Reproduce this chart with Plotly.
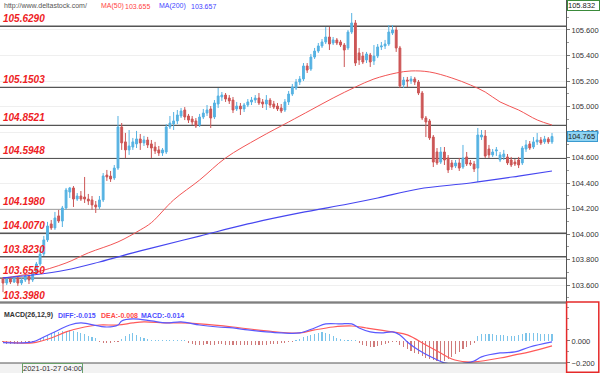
import plotly.graph_objects as go

# ---------------- data ----------------
OPEN = [103.649,103.617,103.649,103.625,103.656,103.617,103.641,103.672,103.641,103.703,
        103.766,103.845,103.955,104.080,104.049,104.143,104.103,104.205,104.330,104.362,
        104.275,104.299,104.291,104.275,104.268,104.229,104.213,104.268,104.463,104.455,
        104.440,104.518,104.840,104.723,104.660,104.683,104.707,104.746,104.715,104.738,
        104.707,104.683,104.660,104.636,104.644,104.840,104.863,104.887,104.926,104.973,
        104.926,104.902,104.887,104.855,104.918,104.949,104.981,104.918,105.020,105.075,
        105.090,105.067,105.051,104.981,105.004,104.981,105.012,105.036,105.051,105.067,
        105.036,105.020,105.051,105.020,105.004,104.989,104.973,105.036,105.098,105.145,
        105.192,105.216,105.318,105.294,105.388,105.435,105.475,105.506,105.545,105.498,
        105.522,105.506,105.482,105.459,105.584,105.655,105.420,105.396,105.365,105.404,
        105.357,105.396,105.467,105.475,105.490,105.576,105.600,105.459,105.169,105.208,
        105.200,105.216,105.192,105.106,104.910,104.887,104.761,104.644,104.565,104.644,
        104.597,104.558,104.534,104.558,104.526,104.605,104.558,104.550,104.518,104.761,
        104.769,104.667,104.621,104.652,104.581,104.605,104.605,104.581,104.565,104.581,
        104.558,104.667,104.707,104.683,104.723,104.738,104.723,104.746,104.723]
HIGH = [103.664,103.664,103.664,103.672,103.664,103.656,103.688,103.680,103.719,103.782,
        103.876,103.986,104.096,104.111,104.174,104.190,104.221,104.362,104.370,104.377,
        104.322,104.338,104.448,104.315,104.299,104.260,104.299,104.479,104.503,104.495,
        104.542,104.926,104.871,104.793,104.816,104.754,104.809,104.785,104.770,104.762,
        104.738,104.723,104.691,104.675,104.863,104.926,104.957,104.973,104.989,104.996,
        104.942,104.926,104.910,104.942,104.981,105.012,105.004,105.051,105.145,105.114,
        105.106,105.090,105.075,105.036,105.028,105.028,105.059,105.075,105.090,105.106,
        105.059,105.090,105.067,105.044,105.028,105.020,105.059,105.122,105.177,105.216,
        105.239,105.341,105.341,105.412,105.459,105.498,105.529,105.623,105.623,105.545,
        105.537,105.522,105.498,105.600,105.733,105.678,105.459,105.428,105.428,105.420,
        105.482,105.490,105.506,105.522,105.639,105.639,105.623,105.475,105.232,105.232,
        105.239,105.232,105.208,105.122,104.926,104.902,104.777,104.675,104.683,104.683,
        104.620,104.581,104.581,104.597,104.699,104.644,104.581,104.573,104.832,104.816,
        104.816,104.699,104.667,104.683,104.644,104.660,104.628,104.605,104.589,104.605,
        104.691,104.738,104.730,104.761,104.793,104.761,104.770,104.761,104.793]
LOW = [103.546,103.601,103.609,103.617,103.594,103.601,103.625,103.609,103.625,103.688,
       103.751,103.829,103.939,104.033,104.033,104.088,104.056,104.190,104.283,104.213,
       104.260,104.260,104.244,104.229,104.190,104.166,104.197,104.252,104.417,104.409,
       104.424,104.503,104.660,104.597,104.621,104.660,104.675,104.660,104.691,104.675,
       104.597,104.628,104.613,104.613,104.628,104.824,104.816,104.863,104.910,104.894,
       104.871,104.855,104.832,104.840,104.902,104.926,104.832,104.902,104.989,105.044,
       105.036,105.020,104.949,104.965,104.934,104.957,104.996,105.012,105.028,105.012,
       104.989,104.973,104.989,104.981,104.965,104.949,104.957,105.012,105.083,105.130,
       105.169,105.200,105.263,105.279,105.373,105.420,105.459,105.490,105.443,105.482,
       105.482,105.467,105.310,105.443,105.569,105.318,105.326,105.333,105.341,105.310,
       105.326,105.380,105.443,105.451,105.475,105.561,105.428,105.145,105.145,105.153,
       105.177,105.169,105.090,104.894,104.761,104.738,104.526,104.542,104.550,104.542,
       104.479,104.503,104.518,104.495,104.511,104.534,104.534,104.487,104.409,104.738,
       104.597,104.597,104.605,104.613,104.565,104.581,104.542,104.526,104.534,104.518,
       104.542,104.644,104.660,104.667,104.699,104.699,104.707,104.707,104.707]
CLOSE = [103.617,103.649,103.625,103.656,103.617,103.641,103.672,103.641,103.703,103.766,
         103.844,103.955,104.064,104.049,104.127,104.103,104.205,104.346,104.362,104.275,
         104.299,104.275,104.275,104.260,104.229,104.213,104.268,104.456,104.448,104.432,
         104.518,104.840,104.715,104.660,104.691,104.723,104.746,104.715,104.738,104.699,
         104.675,104.652,104.636,104.660,104.840,104.871,104.887,104.934,104.965,104.918,
         104.894,104.879,104.848,104.918,104.949,104.973,104.910,105.028,105.083,105.090,
         105.059,105.044,104.973,105.004,104.981,105.012,105.036,105.051,105.067,105.028,
         105.020,105.051,105.012,104.996,104.981,104.965,105.036,105.098,105.153,105.192,
         105.216,105.318,105.286,105.388,105.435,105.475,105.506,105.545,105.490,105.522,
         105.498,105.482,105.443,105.584,105.655,105.341,105.365,105.349,105.412,105.349,
         105.396,105.467,105.475,105.490,105.584,105.600,105.459,105.161,105.208,105.200,
         105.216,105.192,105.106,104.910,104.879,104.754,104.565,104.558,104.644,104.581,
         104.503,104.526,104.558,104.518,104.597,104.550,104.550,104.511,104.777,104.777,
         104.612,104.621,104.644,104.660,104.621,104.628,104.558,104.542,104.550,104.542,
         104.675,104.699,104.675,104.723,104.738,104.715,104.746,104.723,104.765]

MA50_IDX = [0, 8, 17, 23, 31, 37, 40, 46, 53, 60, 69, 77, 83, 89, 95, 100, 106, 110, 115,
            121, 126, 130, 134, 139, 144, 148]
MA50_VAL = [103.655, 103.695, 103.774, 103.853, 103.939, 104.033, 104.090, 104.268, 104.424,
            104.597, 104.754, 104.879, 104.973, 105.067, 105.153, 105.216, 105.263, 105.279,
            105.271, 105.224, 105.169, 105.114, 105.036, 104.973, 104.895, 104.855]
MA200_IDX = [0, 8, 17, 26, 35, 40, 53, 66, 80, 93, 101, 112, 126, 139, 148]
MA200_VAL = [103.657, 103.680, 103.719, 103.782, 103.853, 103.891, 103.985, 104.080, 104.166,
             104.236, 104.283, 104.354, 104.401, 104.455, 104.495]

DIFF_IDX = [0, 8, 11, 15, 18, 21, 23, 28, 31, 32, 35, 40, 44, 48, 53, 58, 62, 66, 71, 75, 80,
            84, 87, 91, 94, 96, 99, 102, 105, 107, 109, 112, 116, 119, 122, 125, 127, 129, 134,
            138, 142, 148]
DIFF_VAL = [-0.015, -0.009, 0.036, 0.100, 0.145, 0.164, 0.155, 0.127, 0.145, 0.182, 0.200,
            0.182, 0.164, 0.173, 0.145, 0.127, 0.118, 0.100, 0.082, 0.073, 0.073, 0.118, 0.155,
            0.155, 0.155, 0.118, 0.082, 0.073, 0.082, 0.055, -0.009, -0.082, -0.155, -0.200,
            -0.209, -0.200, -0.182, -0.145, -0.109, -0.100, -0.055, -0.009]
DEA_IDX = [0, 8, 13, 17, 22, 26, 31, 35, 38, 44, 48, 53, 62, 71, 80, 84, 89, 94, 98, 105, 109,
           114, 118, 121, 125, 127, 134, 138, 142, 148]
DEA_VAL = [-0.008, -0.018, 0.027, 0.082, 0.127, 0.145, 0.145, 0.164, 0.173, 0.164, 0.164,
           0.155, 0.127, 0.091, 0.073, 0.100, 0.127, 0.136, 0.118, 0.082, 0.055, -0.036,
           -0.109, -0.164, -0.191, -0.191, -0.155, -0.127, -0.100, -0.045]
MACD_HIST = [-0.014,-0.027,-0.027,-0.027,-0.027,-0.018,-0.018,-0.018,-0.009,
             0.009,0.018,
             0.036,0.055,0.073,0.082,0.082,0.091,0.091,0.100,0.091,0.082,0.073,0.064,0.045,0.036,0.027,
             -0.009,-0.018,-0.018,-0.018,-0.009,-0.009,
             0.018,0.045,0.064,0.073,0.055,0.036,0.027,0.018,
             0.009,0.009,0.009,0.009,0.005,0.009,0.009,0.009,0.009,0.005,
             -0.018,-0.027,-0.036,-0.036,-0.036,-0.027,-0.036,-0.036,-0.027,-0.027,
             -0.036,-0.036,-0.036,-0.036,-0.036,-0.036,-0.036,-0.036,-0.036,-0.036,
             -0.036,-0.036,-0.027,-0.027,-0.027,-0.018,-0.018,-0.009,-0.005,0.009,
             0.018,0.036,0.045,0.055,0.064,0.073,0.082,0.073,0.064,0.045,0.027,
             0.018,0.009,0.009,0.009,0.005,
             -0.018,-0.036,-0.045,-0.055,-0.055,-0.045,-0.036,-0.027,
             -0.018,-0.009,-0.009,
             -0.036,-0.055,-0.073,-0.091,-0.109,-0.118,-0.136,-0.155,-0.164,-0.173,-0.182,
             -0.191,-0.182,-0.164,-0.145,-0.118,-0.100,-0.073,-0.055,-0.036,-0.018,
             0.045,0.064,0.064,0.064,0.064,0.055,0.055,0.055,0.045,0.045,0.045,0.055,0.064,
             0.073,0.073,0.073,0.073,0.064,0.064,0.064,0.064]

LEVELS = [105.6290, 105.1503, 104.8521, 104.5948, 104.1980, 104.0070, 103.8230, 103.6550, 103.3980]
PRICE_TICKS = [103.6, 103.8, 104.0, 104.2, 104.4, 104.6, 104.8, 105.0, 105.2, 105.4, 105.6]
MACD_TICKS = [0.0, -0.2]
LAST_PRICE = 104.765
TOP_PRICE = 105.832
MA50_LAST = 103.655
MA200_LAST = 103.657
DIFF_LAST, DEA_LAST, MACD_LAST = -0.015, -0.008, -0.014
DATE_LABEL = "2021-01-27 04:00"

# ---------------- figure ----------------
N = len(CLOSE)
IDX = list(range(N))
W, H = 600, 373
AX_X = 566 / W
MAIN_BOT = 1 - 302 / H
MACD_TOP = 1 - 303 / H
MACD_BOT = 1 - 363 / H

BLUE_C = "#56b2e2"
RED_C = "#cc5656"
FONT = "Liberation Sans, Arial, sans-serif"

fig = go.Figure()
fig.add_trace(go.Candlestick(
    x=IDX, open=OPEN, high=HIGH, low=LOW, close=CLOSE,
    increasing=dict(line=dict(color=BLUE_C, width=1), fillcolor=BLUE_C),
    decreasing=dict(line=dict(color=RED_C, width=1), fillcolor=RED_C),
    whiskerwidth=0, xaxis="x", yaxis="y", hoverinfo="skip", showlegend=False))
fig.add_trace(go.Scatter(x=MA50_IDX, y=MA50_VAL, mode="lines", line=dict(color="#f25555", width=1, shape="spline"),
                         xaxis="x", yaxis="y", showlegend=False, hoverinfo="skip"))
fig.add_trace(go.Scatter(x=MA200_IDX, y=MA200_VAL, mode="lines", line=dict(color="#4646f0", width=1.2, shape="spline"),
                         xaxis="x", yaxis="y", showlegend=False, hoverinfo="skip"))

hist_colors = ["#7cc4ea" if v >= 0 else "#d07a7a" for v in MACD_HIST]
fig.add_trace(go.Bar(x=IDX, y=MACD_HIST, marker=dict(color=hist_colors, line=dict(width=0)), width=0.3,
                     xaxis="x2", yaxis="y2", showlegend=False, hoverinfo="skip"))
fig.add_trace(go.Scatter(x=DEA_IDX, y=DEA_VAL, mode="lines", line=dict(color="#ff5a5a", width=1.2, shape="spline"),
                         xaxis="x2", yaxis="y2", showlegend=False, hoverinfo="skip"))
fig.add_trace(go.Scatter(x=DIFF_IDX, y=DIFF_VAL, mode="lines", line=dict(color="#5a5aff", width=1.2, shape="spline"),
                         xaxis="x2", yaxis="y2", showlegend=False, hoverinfo="skip"))

spacing = (552 - 3) / (N - 1)
x0 = -3 / spacing
x1 = x0 + 566 / spacing
ytop = 105.835
ybot = ytop - 302 * 0.007837

axfont = dict(family=FONT, size=7.5, color="#333")
common_x = dict(range=[x0, x1], showgrid=False, zeroline=False, showticklabels=False, ticks="",
                showline=False, domain=[0, AX_X], fixedrange=True)
fig.update_layout(
    width=W, height=H, margin=dict(l=0, r=0, t=0, b=0),
    paper_bgcolor="white", plot_bgcolor="white", showlegend=False, bargap=0,
    xaxis=dict(anchor="y", rangeslider=dict(visible=False), **common_x),
    xaxis2=dict(anchor="y2", **common_x),
    yaxis=dict(domain=[MAIN_BOT, 1], range=[ybot, ytop], side="right", anchor="x",
               tickvals=PRICE_TICKS, tickformat=".3f", ticks="outside", ticklen=3, tickcolor="#777",
               ticklabelstandoff=0,
               minor=dict(dtick=0.1, tick0=103.5, ticks="outside", ticklen=2, tickcolor="#999", showgrid=False),
               showgrid=True, gridcolor="#efefef", gridwidth=1, zeroline=False,
               showline=True, linecolor="#555", linewidth=1, tickfont=axfont, automargin=False),
    yaxis2=dict(domain=[MACD_BOT, MACD_TOP], range=[-0.2005, 0.345], side="right", anchor="x2",
                tickvals=MACD_TICKS, tickformat=".3f", ticks="outside", ticklen=3, tickcolor="#777",
                ticklabelstandoff=0,
                minor=dict(tickvals=[0.3, 0.2, 0.1, -0.1], ticks="outside", ticklen=2, tickcolor="#999"),
                showgrid=False, zeroline=False, showline=True, linecolor="#555", linewidth=1,
                tickfont=axfont, automargin=False),
)

shapes = []
for lv in LEVELS:
    shapes.append(dict(type="line", xref="paper", x0=0, x1=AX_X, yref="y", y0=lv, y1=lv,
                       line=dict(color="#555555", width=1.4), layer="below"))
for yy in (MAIN_BOT, MACD_TOP, MACD_BOT):
    shapes.append(dict(type="line", xref="paper", yref="paper", x0=0, x1=AX_X, y0=yy, y1=yy,
                       line=dict(color="#555", width=1)))
shapes.append(dict(type="rect", xref="paper", yref="paper", x0=0, x1=AX_X, y0=0, y1=MACD_BOT,
                   line=dict(width=0), fillcolor="#f2f2f2", layer="below"))
shapes.append(dict(type="rect", xref="paper", yref="paper", x0=AX_X + 0.001, x1=0.998, y0=0.002, y1=MAIN_BOT,
                   line=dict(color="#e52a2a", width=1.5)))
fig.update_layout(shapes=shapes)

ann = []
lblfont = dict(family=FONT, size=10, color="#ee1c24")
for lv in LEVELS:
    if ybot <= lv <= ytop:
        ann.append(dict(x=0, xref="paper", xanchor="left", xshift=1, y=lv, yref="y", yanchor="bottom", yshift=0,
                        text="<b><i>%.4f</i></b>" % lv, showarrow=False, font=lblfont))
    else:
        ann.append(dict(x=0, xref="paper", xanchor="left", xshift=1, y=MAIN_BOT, yref="paper", yanchor="bottom",
                        yshift=-1, text="<b><i>%.4f</i></b>" % lv, showarrow=False, font=lblfont))


def txt(xpx, ypx, s, color, size=7):
    ann.append(dict(x=xpx / W, y=1 - ypx / H, xref="paper", yref="paper", xanchor="left", yanchor="middle",
                    text=s, showarrow=False, font=dict(family=FONT, size=size, color=color)))


txt(2, 6, "http://www.deltastock.com/", "#555")
txt(99, 6, "MA(50)", "#ff4444")
txt(123, 6, "%.3f" % MA50_LAST, "#ff4444")
txt(157, 6, "MA(200)", "#4444ff")
txt(189, 6, "%.3f" % MA200_LAST, "#4444ff")
txt(2, 315, "<b>MACD(26,12,9)</b>", "#333")
txt(56, 315, "<b>DIFF:%.3f</b>" % DIFF_LAST, "#5050ff")
txt(99, 315, "<b>DEA:%.3f</b>" % DEA_LAST, "#ff4a4a")
txt(139, 315, "<b>MACD:%.3f</b>" % MACD_LAST, "#5050ff")

ann.append(dict(x=AX_X, xref="paper", xanchor="left", xshift=1, y=LAST_PRICE, yref="y", yanchor="middle",
                text="%.3f&nbsp;" % LAST_PRICE, showarrow=False, bgcolor="#8fd3f2", bordercolor="#3a9ad0",
                borderwidth=1, borderpad=0, font=dict(family=FONT, size=7.5, color="#222")))
ann.append(dict(x=AX_X, xref="paper", xanchor="left", xshift=1, y=1, yref="paper", yanchor="top",
                text="%.3f&nbsp;&nbsp;" % TOP_PRICE, showarrow=False, bgcolor="white", bordercolor="#3a8a3a",
                borderwidth=1, borderpad=0, font=dict(family=FONT, size=7.5, color="#222")))
ann.append(dict(x=22 / W, xref="paper", xanchor="left", y=MACD_BOT, yref="paper", yanchor="top",
                text=DATE_LABEL, showarrow=False, bgcolor="#f7f7f7", bordercolor="#6aa06a", borderwidth=1,
                borderpad=0, font=dict(family=FONT, size=7.5, color="#333")))
fig.update_layout(annotations=ann)

fig.write_html("out.html", config={"displayModeBar": False, "staticPlot": True},
               post_script="document.body.style.margin='0';document.body.style.padding='0';"
                           "document.body.style.overflow='hidden';")
